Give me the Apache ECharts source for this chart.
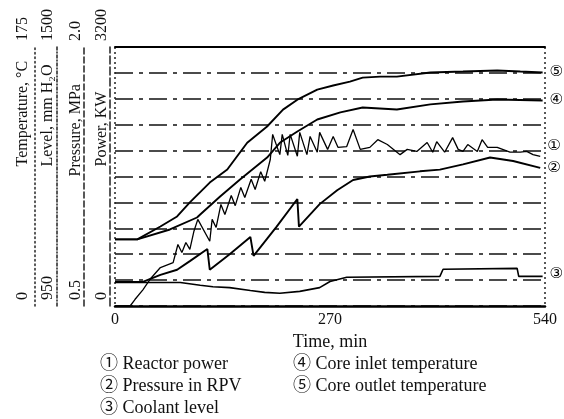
<!DOCTYPE html>
<html>
<head>
<meta charset="utf-8">
<script src="https://cdn.jsdelivr.net/npm/echarts@6/dist/echarts.min.js"></script>
<style>
  html, body { margin: 0; padding: 0; background: #fff; }
  #chart { width: 564px; height: 419px; }
</style>
</head>
<body>
<div id="chart"></div>
<script>
// ---- data (time in min) ----
const timeTicks = [0, 270, 540];
const powerTicks = [0, 3200];
const pressureTicks = [0.5, 2.0];
const levelTicks = [950, 1500];
const tempTicks = [0, 175];

const seriesNames = [
  '\u2460 Reactor power',
  '\u2461 Pressure in RPV',
  '\u2462 Coolant level',
  '\u2463 Core inlet temperature',
  '\u2464 Core outlet temperature'
];
const endMarks = ['\u2460', '\u2461', '\u2462', '\u2463', '\u2464'];

const powerData = [
  [0,0],[19,0],[25,80],[35,200],[44,330],[57,475],[73,535],[79,760],[84,660],[89,785],[94,700],
  [99,920],[104,1070],[119,800],[122,1070],[127,970],[133,1255],[138,1130],[146,1365],[151,1240],
  [158,1465],[163,1340],[171,1565],[176,1440],[183,1660],[188,1540],[195,1810],[198,2120],[207,1870],
  [210,2120],[217,1860],[220,2120],[229,1850],[232,2145],[241,1870],[245,2095],[254,1900],[257,2145],
  [267,1935],[274,2095],[280,1960],[291,1970],[299,2180],[308,1935],[320,1960],[330,2055],[342,1995],
  [358,1870],[367,1935],[379,1910],[392,2020],[399,1900],[404,2030],[414,1900],[424,2080],[431,1935],
  [437,1910],[443,1995],[455,1910],[461,2055],[468,1960],[480,1960],[496,1900],[509,1900],[517,1910],
  [525,1870],[534,1850]
];
const pressureData = [
  [0,0.64],[35,0.64],[57,0.68],[78,0.71],[94,0.76],[116,0.83],[119,0.71],[144,0.80],[170,0.90],
  [174,0.79],[203,0.96],[229,1.12],[231,0.96],[257,1.09],[279,1.17],[299,1.23],[320,1.25],[342,1.26],
  [383,1.28],[408,1.29],[437,1.32],[471,1.36],[500,1.34],[534,1.30]
];
const levelData = [
  [0,1000],[82,1000],[107,994],[123,991],[144,989],[170,983],[188,979],[207,977],[232,981],[257,989],
  [270,1002],[291,1011],[408,1013],[412,1028],[505,1030],[507,1013],[537,1013]
];
const inletTempData = [
  [0,45],[28,45],[69,51.7],[103,59.8],[107,61.8],[132,74],[157,85.5],[191,100.3],[207,110.3],
  [229,117.9],[254,126],[283,130.8],[311,134.1],[354,132.8],[396,136.2],[437,138.2],[480,139.5],[537,138.9]
];
const outletTempData = [
  [0,45],[28,45],[57,53.7],[78,60.5],[94,70],[119,83.4],[141,92.2],[166,110.3],[191,121.3],[211,132.7],
  [229,139.4],[254,146.2],[274,149],[295,151.6],[311,154.3],[333,155],[354,155],[396,157.8],[437,158.4],
  [480,159.1],[509,158.4],[537,157.8]
];

const SERIF = "'Liberation Serif', 'Times New Roman', 'DejaVu Serif', 'Noto Sans CJK SC', serif";
const MARKFONT = "'DejaVu Sans', 'Noto Sans CJK SC', sans-serif";

function leftAxis(name, min, max, ticks, offset, margin, lineType, fmt, namePad) {
  return {
    type: 'value', position: 'left', min: min, max: max, offset: offset,
    name: name, nameLocation: 'middle', nameRotate: 90, nameGap: margin,
    nameMoveOverlap: false,
    nameTextStyle: { fontFamily: SERIF, fontSize: 16, color: '#111', align: 'left', verticalAlign: 'bottom', padding: [0, 0, 0, namePad] },
    axisLine: { show: true, onZero: false, lineStyle: { color: '#222', width: 1.5, type: lineType } },
    axisTick: { show: false },
    splitLine: { show: false },
    axisLabel: {
      customValues: ticks, rotate: 90, margin: margin, align: 'left', verticalAlign: 'bottom',
      padding: [0, 0, 0, 6], fontFamily: SERIF, fontSize: 16, color: '#111',
      formatter: fmt
    }
  };
}

const yAxes = [
  Object.assign(leftAxis('Power, KW', 0, 3200, powerTicks, 5, 0, [8, 3], v => String(v), 10), {
    interval: 320,
    splitLine: { show: true, lineStyle: { color: '#111', width: 1.7, type: [18, 6, 4, 6] } }
  }),
  leftAxis('Pressure, MPa', 0.5, 2.0, pressureTicks, 31, 0, [6, 3], v => v.toFixed(1), 0),
  leftAxis('Level, mm H\u2082O', 950, 1500, levelTicks, 58, 1, [3, 2, 1, 2], v => String(v), 10),
  leftAxis('Temperature, \u00B0C', 0, 175, tempTicks, 80, 4, [1.5, 3], v => String(v), 10)
];

function line(i, data, yIdx, width, offY) {
  return {
    name: seriesNames[i], type: 'line', data: data, xAxisIndex: 0, yAxisIndex: yIdx,
    showSymbol: false, symbol: 'none', smooth: false, animation: false,
    lineStyle: { color: '#000', width: width },
    itemStyle: { color: '#000' },
    endLabel: {
      show: true, formatter: endMarks[i], distance: 7, offset: [0, offY],
      fontFamily: MARKFONT, fontSize: 15, color: '#000'
    },
    emphasis: { disabled: true }
  };
}

const legendBase = {
  orient: 'vertical', top: 355, padding: 0,
  icon: 'none', itemWidth: 0, itemHeight: 18, itemGap: 4, selectedMode: false,
  textStyle: { fontFamily: SERIF, fontSize: 18, color: '#111' }
};

const option = {
  backgroundColor: '#fff',
  animation: false,
  grid: { left: 115, right: 19, top: 47, bottom: 113, containLabel: false, outerBoundsMode: 'none' },
  xAxis: [
    {
      type: 'value', position: 'bottom', min: 0, max: 540, interval: 270,
      name: 'Time, min', nameLocation: 'middle', nameGap: 21,
      nameTextStyle: { fontFamily: SERIF, fontSize: 18, color: '#111' },
      axisLine: { show: true, onZero: false, lineStyle: { color: '#000', width: 2.5 } },
      axisTick: { show: false },
      splitLine: { show: false },
      axisLabel: { customValues: timeTicks, margin: 6, fontFamily: SERIF, fontSize: 16, color: '#111' }
    },
    {
      type: 'value', position: 'top', min: 0, max: 540, interval: 540,
      axisLine: { show: true, onZero: false, lineStyle: { color: '#000', width: 2 } },
      axisTick: { show: false },
      axisLabel: { show: false },
      splitLine: { show: true, lineStyle: { color: '#222', width: 1.5, type: [2, 3] } }
    }
  ],
  yAxis: yAxes,
  legend: [
    Object.assign({}, legendBase, { data: seriesNames.slice(0, 3), left: 95 }),
    Object.assign({}, legendBase, { data: seriesNames.slice(3), left: 288 })
  ],
  series: [
    line(0, powerData, 0, 1.3, -10),
    line(1, pressureData, 1, 1.9, 0),
    line(2, levelData, 2, 1.6, -2),
    line(3, inletTempData, 3, 1.9, 0),
    line(4, outletTempData, 3, 1.9, 0)
  ]
};

const chart = echarts.init(document.getElementById('chart'), null, { renderer: 'canvas' });
chart.setOption(option);
</script>
</body>
</html>
